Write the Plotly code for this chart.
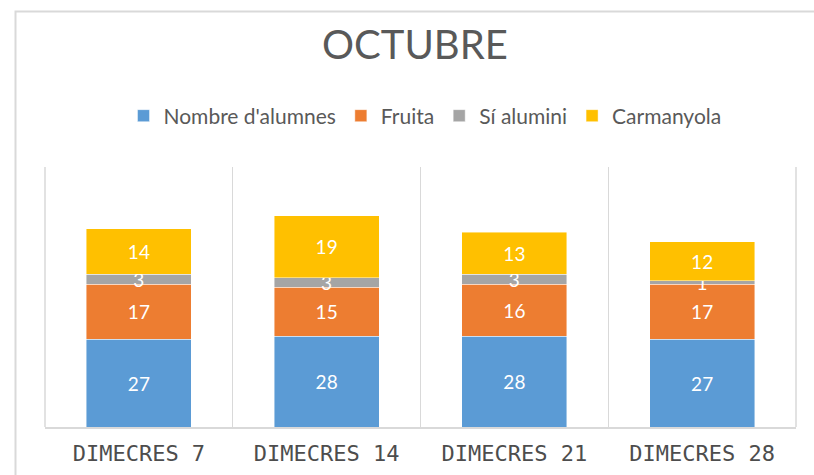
import plotly.graph_objects as go

# Dates (Wednesdays of October) and series values
dies = ["DIMECRES 7", "DIMECRES 14", "DIMECRES 21", "DIMECRES 28"]
alumnes = [27, 28, 28, 27]
fruita = [17, 15, 16, 17]
si_alumini = [3, 3, 3, 1]
carmanyola = [14, 19, 13, 12]

series = [
    ("Nombre d'alumnes", alumnes, "#5B9BD5"),
    ("Fruita", fruita, "#ED7D31"),
    ("Sí alumini", si_alumini, "#A5A5A5"),
    ("Carmanyola", carmanyola, "#FFC000"),
]

W, H = 814, 475
ML, MR, MT, MB = 45, 18, 167, 48
PW, PH = W - ML - MR, H - MT - MB

fig = go.Figure()
for name, vals, color in series:
    fig.add_trace(go.Bar(
        name=name,
        x=dies,
        y=vals,
        marker=dict(color=color, line=dict(color="rgba(255,255,255,0.55)", width=0.8)),
        text=[str(v) for v in vals],
        textposition="inside",
        insidetextanchor="middle",
        textangle=0,
        constraintext="none",
        textfont=dict(family="Lato, Open Sans, sans-serif", size=19, color="white"),
    ))


def px_x(px):
    return (px - ML) / PW


def px_y(py):
    return (H - MB - py) / PH


fig.update_layout(
    width=W,
    height=H,
    barmode="stack",
    bargap=0.44,
    margin=dict(l=ML, r=MR, t=MT, b=MB, autoexpand=False),
    paper_bgcolor="white",
    plot_bgcolor="white",
    title=dict(
        text="OCTUBRE",
        x=415 / W,
        xanchor="center",
        xref="container",
        y=1 - 45 / H,
        yanchor="middle",
        yref="container",
        font=dict(family="Lato, sans-serif", size=40, color="#595959"),
    ),
    legend=dict(
        orientation="h",
        x=px_x(425),
        xanchor="center",
        y=px_y(116),
        yanchor="middle",
        font=dict(family="Lato, sans-serif", size=21, color="#595959"),
        itemwidth=30,
        traceorder="normal",
    ),
    showlegend=True,
    xaxis=dict(
        type="category",
        tickson="boundaries",
        showgrid=True,
        gridcolor="#D9D9D9",
        gridwidth=1,
        showline=True,
        linecolor="#D9D9D9",
        linewidth=1.5,
        ticks="",
        ticklabelstandoff=6,
        automargin=False,
        tickfont=dict(family="DejaVu Sans Mono, monospace", size=22, color="#4D4D4D"),
        fixedrange=True,
    ),
    yaxis=dict(
        range=[0, 80],
        showgrid=False,
        zeroline=False,
        showticklabels=False,
        showline=False,
        automargin=False,
        fixedrange=True,
    ),
    shapes=[
        # outer chart frame (left and top edges visible)
        dict(type="rect", xref="paper", yref="paper",
             x0=px_x(15.5), x1=px_x(W + 20), y0=px_y(H + 20), y1=px_y(11.5),
             line=dict(color="#D9D9D9", width=2), fillcolor="rgba(0,0,0,0)", layer="below"),
        # plot-area edges
        dict(type="line", xref="paper", yref="paper", x0=0, x1=0, y0=0, y1=1,
             line=dict(color="#D9D9D9", width=1.5), layer="below"),
        dict(type="line", xref="paper", yref="paper", x0=1, x1=1, y0=0, y1=1,
             line=dict(color="#D9D9D9", width=1.5), layer="below"),
    ],
)

fig.write_html("out.html")
